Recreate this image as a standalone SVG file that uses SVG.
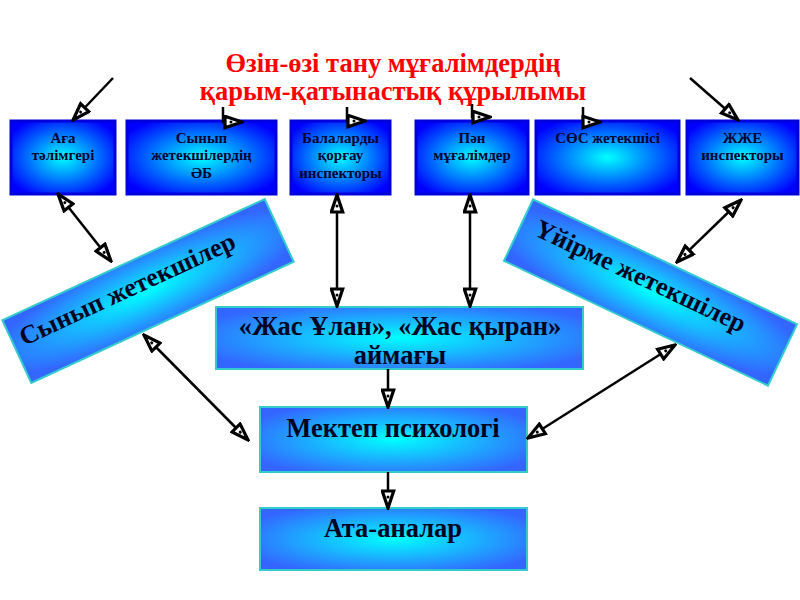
<svg xmlns="http://www.w3.org/2000/svg" width="800" height="600" viewBox="0 0 800 600">
<defs>
<radialGradient id="gTop" cx="0.5" cy="0.5" r="0.6">
<stop offset="0" stop-color="#00ffff"/>
<stop offset="1" stop-color="#0000ff"/>
</radialGradient>
<radialGradient id="gLow" cx="0.5" cy="0.5" r="0.6">
<stop offset="0" stop-color="#00ffff"/>
<stop offset="1" stop-color="#3366ff"/>
</radialGradient>
<marker id="ah" viewBox="0 0 21 15" markerWidth="21" markerHeight="15" refX="19" refY="7.5" orient="auto-start-reverse" markerUnits="userSpaceOnUse">
<path d="M2,1.8 L19,7.5 L2,13.2 z" fill="#ffffff" stroke="#000000" stroke-width="3.2" stroke-linejoin="miter"/>
<circle cx="8" cy="7.5" r="1.5" fill="#000000"/>
</marker>
<style>
.top rect{fill:url(#gTop);stroke:#0000dd;stroke-width:3}
.low rect{fill:url(#gLow);stroke:#33cccc;stroke-width:2}
.tt{font-family:"Liberation Serif","Times New Roman",serif;font-weight:bold;font-size:15px;fill:#000033;text-anchor:middle}
.lt{font-family:"Liberation Serif","Times New Roman",serif;font-weight:bold;font-size:26.5px;fill:#000022;text-anchor:middle}
.rt{font-family:"Liberation Serif","Times New Roman",serif;font-weight:bold;font-size:26px;fill:#000022;text-anchor:middle}
.title{font-family:"Liberation Serif","Times New Roman",serif;font-weight:bold;font-size:26.5px;fill:#ff0000;text-anchor:middle}
.c{fill:none;stroke:#000000;stroke-width:2.5}
</style>
</defs>
<rect width="800" height="600" fill="#ffffff"/>
<g id="title">
<text class="title" x="393" y="72">Өзін-өзі тану мұғалімдердің</text>
<text class="title" x="393" y="100">қарым-қатынастық құрылымы</text>
</g>
<g id="n1" class="top"><rect x="11" y="121" width="104" height="73"/>
<text class="tt" x="63" y="143">Аға</text><text class="tt" x="63" y="160">тәлімгері</text></g>
<g id="n2" class="top"><rect x="127" y="121" width="149" height="73"/>
<text class="tt" x="201.5" y="143">Сынып</text><text class="tt" x="201.5" y="160">жетекшілердің</text><text class="tt" x="201.5" y="178">ӘБ</text></g>
<g id="n3" class="top"><rect x="291" y="121" width="99" height="73"/>
<text class="tt" x="340.5" y="143">Балаларды</text><text class="tt" x="340.5" y="160">қорғау</text><text class="tt" x="340.5" y="178">инспекторы</text></g>
<g id="n4" class="top"><rect x="416" y="121" width="112" height="73"/>
<text class="tt" x="472" y="143">Пән</text><text class="tt" x="472" y="160">мұғалімдер</text></g>
<g id="n5" class="top"><rect x="536" y="121" width="143" height="73"/>
<text class="tt" x="607.5" y="143">СӨС жетекшісі</text></g>
<g id="n6" class="top"><rect x="687" y="121" width="111" height="73"/>
<text class="tt" x="742.5" y="143">ЖЖЕ</text><text class="tt" x="742.5" y="160">инспекторы</text></g>
<g id="n7" class="low" transform="translate(148,291) rotate(-24.8)"><rect x="-144.5" y="-34.5" width="289" height="69"/>
<text class="rt" x="-18" y="-2">Сынып жетекшілер</text></g>
<g id="n8" class="low" transform="translate(650.5,292.5) rotate(25.3)"><rect x="-146" y="-34" width="292" height="68"/>
<text class="rt" x="-16" y="-2">Үйірме жетекшілер</text></g>
<g id="n9" class="low"><rect x="216" y="307" width="367" height="62"/>
<text class="lt" x="400" y="335">«Жас Ұлан», «Жас қыран»</text><text class="lt" x="400" y="364">аймағы</text></g>
<g id="n10" class="low"><rect x="260" y="407" width="267" height="65"/>
<text class="lt" x="393" y="437">Мектеп психологі</text></g>
<g id="n11" class="low"><rect x="260" y="508" width="267" height="62"/>
<text class="lt" x="393" y="537">Ата-аналар</text></g>
<g id="connectors">
<path class="c" d="M113,78 L73,120" marker-end="url(#ah)"/>
<path class="c" d="M223,107 V122 H242" marker-end="url(#ah)"/>
<path class="c" d="M347,107 V121 H365" marker-end="url(#ah)"/>
<path class="c" d="M472,104 V117 H490" marker-end="url(#ah)"/>
<path class="c" d="M583,107 V122 H600" marker-end="url(#ah)"/>
<path class="c" d="M690,78 L738,120" marker-end="url(#ah)"/>
<path class="c" d="M58,194 L111,261" marker-start="url(#ah)" marker-end="url(#ah)"/>
<path class="c" d="M337,195 L337,306" marker-start="url(#ah)" marker-end="url(#ah)"/>
<path class="c" d="M470,195 L470,306" marker-start="url(#ah)" marker-end="url(#ah)"/>
<path class="c" d="M741,200 L677,262" marker-start="url(#ah)" marker-end="url(#ah)"/>
<path class="c" d="M144,335 L248,440" marker-start="url(#ah)" marker-end="url(#ah)"/>
<path class="c" d="M675,345 L528,438" marker-start="url(#ah)" marker-end="url(#ah)"/>
<path class="c" d="M388,369 L388,407" marker-end="url(#ah)"/>
<path class="c" d="M388,472 L388,508" marker-end="url(#ah)"/>
</g>
</svg>
